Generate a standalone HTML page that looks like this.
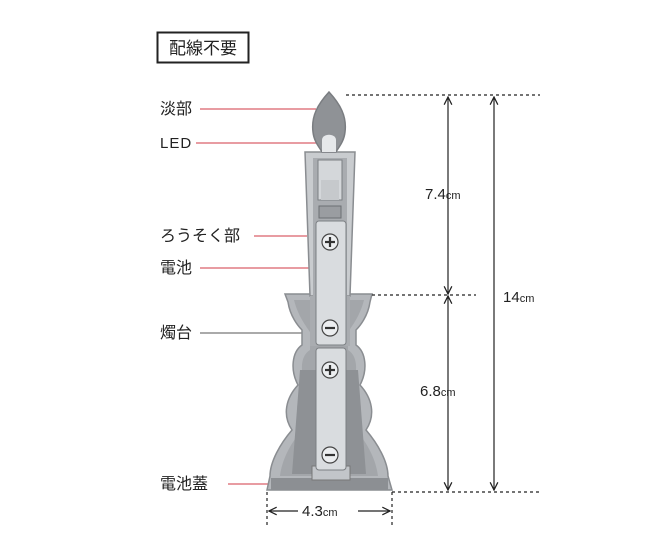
<!DOCTYPE html>
<html><head><meta charset="utf-8"><style>
html,body{margin:0;padding:0;background:#fff;}
svg{display:block;}
text{font-family:"Liberation Sans","Noto Sans CJK JP",sans-serif;fill:#222;}
</style></head><body>
<svg width="652" height="545" viewBox="0 0 652 545" xmlns="http://www.w3.org/2000/svg">
<defs>
<marker id="ah" viewBox="0 0 10 10" refX="9" refY="5" markerWidth="8" markerHeight="8" orient="auto-start-reverse"><path d="M1,1 L9,5 L1,9" fill="none" stroke="#222" stroke-width="1.3"/></marker>
</defs>
<rect x="157.5" y="32.5" width="91" height="30" fill="#fff" stroke="#222" stroke-width="2"/>
<text x="203" y="54" font-size="17" text-anchor="middle">配線不要</text>

<g font-size="16">
<text x="160" y="114">淡部</text>
<text x="160" y="148" font-size="15" letter-spacing="1">LED</text>
<text x="160" y="241">ろうそく部</text>
<text x="160" y="273">電池</text>
<text x="160" y="338">燭台</text>
<text x="160" y="489">電池蓋</text>
</g>
<g stroke="#d9606a" stroke-width="1.2">
<line x1="200" y1="109" x2="316" y2="109"/>
<line x1="196" y1="143" x2="330" y2="143"/>
<line x1="254" y1="236" x2="307" y2="236"/>
<line x1="200" y1="268" x2="330" y2="268"/>
<line x1="228" y1="484" x2="340" y2="484"/>
</g>
<line x1="200" y1="333" x2="304" y2="333" stroke="#777" stroke-width="1.2"/>

<path d="M285,294 L372,294 L370,302 C368,316 360,326 356,330 L356,345 C366,352 368,370 360,385 C372,398 376,415 366,430 C378,444 388,462 388,476 L392,490 L267,490 L270,476 C270,462 280,444 292,430 C282,415 286,398 298,385 C290,370 292,352 302,345 L302,330 C298,326 290,316 288,302 Z" fill="#b4b7bb" stroke="#8a8d91" stroke-width="1.5"/>
<path d="M294,300 L364,300 C360,316 352,326 348,332 L348,350 C358,356 358,372 352,385 C362,398 364,414 356,430 C368,444 376,460 378,476 L280,476 C282,460 290,444 302,430 C294,414 296,398 306,385 C300,372 300,356 310,350 L310,332 C306,326 298,316 294,300 Z" fill="#a3a6aa"/>
<path d="M300,370 L358,370 L366,474 L292,474 Z" fill="#8e9195"/>
<rect x="271" y="478" width="117" height="12" fill="#8c8f93"/>
<rect x="312" y="466" width="38" height="14" fill="#c2c5c9" stroke="#777" stroke-width="1"/>

<path d="M305,152 L355,152 L350,296 L310,296 Z" fill="#c9cccf" stroke="#8a8d91" stroke-width="1.5"/>
<rect x="313" y="158" width="34" height="140" fill="#a9acb0"/>
<rect x="318" y="160" width="24" height="40" fill="#d4d7da" stroke="#7c7f83" stroke-width="1"/>
<rect x="321" y="180" width="18" height="20" fill="#c6c9cc"/>
<rect x="319" y="206" width="22" height="12" fill="#9a9da1" stroke="#6c6f73"/>
<rect x="310" y="296" width="40" height="50" fill="#a9acb0"/>
<path d="M329,92 C318,104 311,116 313,132 C314,142 320,148 322,152 L336,152 C338,148 344,142 345,132 C347,116 340,104 329,92 Z" fill="#8f9296" stroke="#7a7d81" stroke-width="1.5"/>
<path d="M322,152 L322,140 C322,133 336,133 336,140 L336,152 Z" fill="#e6e8ea"/>
<rect x="316" y="221" width="30" height="124" rx="3" fill="#d9dcdf" stroke="#7c7f83" stroke-width="1"/>
<rect x="316" y="348" width="30" height="122" rx="3" fill="#d9dcdf" stroke="#7c7f83" stroke-width="1"/>
<g fill="#eceef0" stroke="#444" stroke-width="1.2">
<circle cx="330" cy="242" r="8"/><circle cx="330" cy="328" r="8"/>
<circle cx="330" cy="370" r="8"/><circle cx="330" cy="455" r="8"/>
</g>
<g stroke="#333" stroke-width="2.2">
<line x1="325" y1="242" x2="335" y2="242"/><line x1="330" y1="237" x2="330" y2="247"/>
<line x1="325" y1="328" x2="335" y2="328"/>
<line x1="325" y1="370" x2="335" y2="370"/><line x1="330" y1="365" x2="330" y2="375"/>
<line x1="325" y1="455" x2="335" y2="455"/>
</g>

<g stroke="#222" stroke-width="1.2" stroke-dasharray="3,3">
<line x1="346" y1="95" x2="540" y2="95"/>
<line x1="372" y1="295" x2="476" y2="295"/>
<line x1="392" y1="492" x2="540" y2="492"/>
<line x1="267" y1="492" x2="267" y2="526"/>
<line x1="392" y1="492" x2="392" y2="526"/>
</g>
<g stroke="#222" stroke-width="1.2" fill="none">
<line x1="448" y1="97" x2="448" y2="294" marker-start="url(#ah)" marker-end="url(#ah)"/>
<line x1="448" y1="296" x2="448" y2="490" marker-start="url(#ah)" marker-end="url(#ah)"/>
<line x1="494" y1="97" x2="494" y2="490" marker-start="url(#ah)" marker-end="url(#ah)"/>
<line x1="269" y1="511" x2="298" y2="511" marker-start="url(#ah)"/>
<line x1="358" y1="511" x2="390" y2="511" marker-end="url(#ah)"/>
</g>
<text x="425" y="199" font-size="15">7.4<tspan font-size="11">cm</tspan></text>
<text x="420" y="396" font-size="15">6.8<tspan font-size="11">cm</tspan></text>
<text x="503" y="302" font-size="15">14<tspan font-size="11">cm</tspan></text>
<text x="302" y="516" font-size="15">4.3<tspan font-size="11">cm</tspan></text>
</svg>
</body></html>
